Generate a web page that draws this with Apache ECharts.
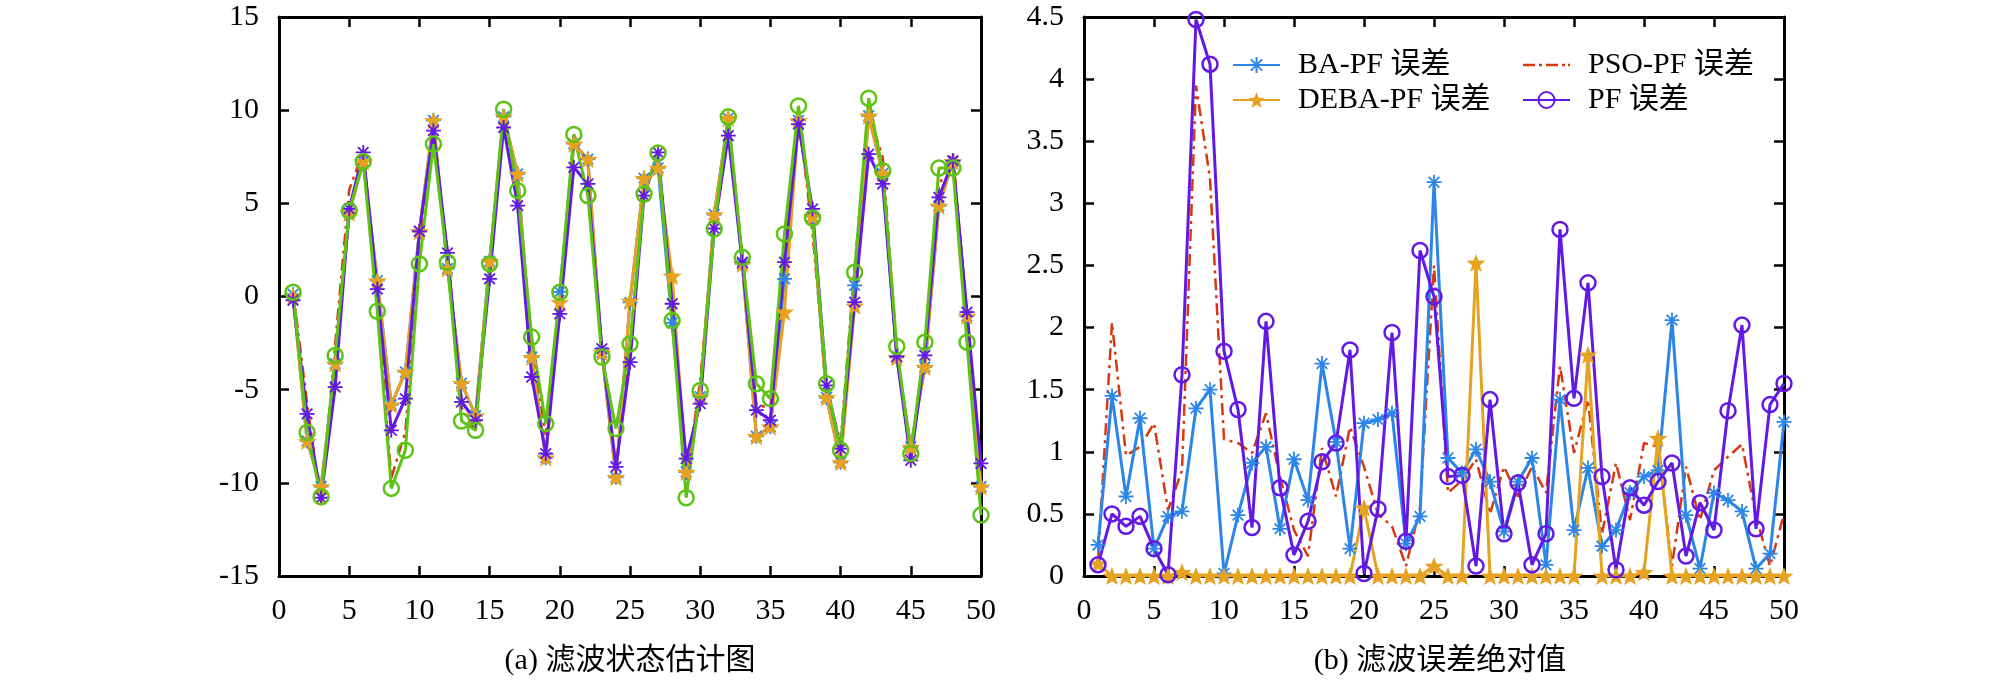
<!DOCTYPE html>
<html>
<head>
<meta charset="UTF-8">
<title>滤波状态估计与误差</title>
<style>
    html, body { margin: 0; padding: 0; background: #fff; }
    #chartArea { width: 2008px; height: 680px; }
</style>
</head>
<body>
<div id="chartArea"></div>
<script src="https://cdn.jsdelivr.net/npm/echarts@6/dist/echarts.min.js"></script>
<script>
// time steps 1..50
var steps = [1,2,3,4,5,6,7,8,9,10,11,12,13,14,15,16,17,18,19,20,21,22,23,24,25,
             26,27,28,29,30,31,32,33,34,35,36,37,38,39,40,41,42,43,44,45,46,47,48,49,50];

// (a) state estimates
var trueState = [0.12,-7.75,-10.2,-3.6,4.5,7.25,0.85,-5.8,-4.05,3.5,
                 9.45,1.5,-4.65,-6.4,1.9,9.65,6.58,-3.25,-8.65,0.25,
                 8.2,7.37,-3.0,-9.7,-0.32,6.35,6.9,-1.42,-9.42,-5.38,
                 4.4,9.57,1.75,-7.5,-6.98,0.95,9.45,4.3,-5.42,-8.9,
                 0.6,9.7,6.6,-3.27,-8.08,-3.78,4.86,7.25,-1.05,-10.2];
var psoEst = [0.27,-5.71,-11.17,-2.56,5.73,7.78,0.0,-9.75,-7.25,2.4,
              8.38,2.49,-5.96,-7.2,1.53,9.81,5.55,-2.61,-7.45,-0.63,
              8.7,6.97,-3.08,-9.15,-2.82,5.68,7.67,-0.48,-9.92,-4.5,
              3.76,8.69,2.42,-5.81,-5.99,2.37,9.79,3.39,-4.97,-7.83,
              1.64,9.78,7.48,-2.82,-8.93,-2.82,5.92,7.73,-1.13,-10.7];
var debaEst = [0.02,-7.75,-10.2,-3.6,4.5,7.25,0.85,-5.8,-4.05,3.5,
               9.45,1.5,-4.65,-6.4,1.9,9.65,6.58,-3.25,-8.65,-0.3,
               8.2,7.37,-3.0,-9.7,-0.24,6.35,6.9,1.1,-9.42,-5.38,
               4.4,9.57,1.75,-7.5,-6.98,-0.83,9.45,4.3,-5.42,-8.9,
               -0.5,9.7,6.6,-3.27,-8.08,-3.78,4.86,7.25,-1.05,-10.2];
var baEst = [-0.2,-6.3,-10.8,-4.86,4.7,7.73,0.4,-7.18,-5.48,3.5,
             8.9,2.34,-5.66,-6.64,0.95,9.07,4.88,-4.32,-8.43,-0.93,
             6.93,6.04,-2.8,-9.14,-3.52,5.41,7.73,-0.39,-8.7,-5.75,
             3.65,8.63,1.84,-6.1,-6.64,1.84,9.25,4.7,-4.77,-8.16,
             -0.3,7.64,6.04,-3.22,-8.79,-3.16,5.32,7.29,-0.84,-8.96];
var pfEst = [0.23,-7.3,-10.75,-3.16,4.6,7.25,-0.79,-10.3,-8.25,1.75,
             8.18,1.84,-6.68,-7.18,1.75,10.05,5.68,-2.18,-6.82,0.23,
             8.7,5.41,-3.25,-7.09,-2.54,5.5,7.7,-1.29,-10.8,-5.04,
             3.63,9.64,2.1,-4.68,-5.48,3.36,10.23,4.21,-4.68,-8.25,
             1.3,10.64,6.75,-2.68,-8.43,-2.45,6.89,6.89,-2.45,-11.73];

// (b) absolute errors
var baErr = [0.25,1.45,0.64,1.27,0.22,0.48,0.52,1.35,1.5,0.02,
             0.49,0.91,1.04,0.38,0.94,0.61,1.71,1.08,0.22,1.23,
             1.26,1.31,0.26,0.48,3.17,0.95,0.83,1.02,0.76,0.36,
             0.76,0.95,0.09,1.42,0.37,0.87,0.24,0.37,0.67,0.8,
             0.85,2.06,0.49,0.06,0.67,0.61,0.52,0.06,0.18,1.24];
var debaErr = [0.1,0,0,0,0,0,0.03,0,0,0,
               0,0,0,0,0,0,0,0,0,0.55,
               0,0,0,0,0.08,0,0,2.52,0,0,
               0,0,0,0,0,1.78,0,0,0,0.03,
               1.11,0,0,0,0,0,0,0,0,0];
var psoErr = [0.13,2.04,0.97,1.04,1.23,0.53,0.85,3.95,3.2,1.1,
              1.07,0.99,1.31,0.8,0.37,0.16,1.03,0.64,1.2,0.88,
              0.5,0.4,0.08,0.55,2.5,0.67,0.77,0.94,0.5,0.88,
              0.64,0.88,0.67,1.69,0.99,1.42,0.34,0.91,0.45,1.07,
              1.04,0.08,0.88,0.45,0.85,0.96,1.06,0.48,0.08,0.5];
var pfErr = [0.09,0.5,0.4,0.48,0.22,0.01,1.62,4.48,4.12,1.81,
             1.34,0.39,2.05,0.71,0.17,0.44,0.92,1.07,1.82,0.02,
             0.54,1.96,0.28,2.62,2.25,0.8,0.81,0.08,1.42,0.34,
             0.75,0.09,0.34,2.79,1.43,2.36,0.8,0.05,0.71,0.57,
             0.76,0.91,0.16,0.59,0.37,1.33,2.02,0.38,1.38,1.55];

var BLUE = '#2c86e8', ORANGE = '#e6a221', RED = '#d8380e', PURPLE = '#6319e6', GREEN = '#5dc414';
var FONT = "'Liberation Serif', 'Noto Sans CJK SC', serif";

var asterisk = 'path://M-1.2,-10L1.2,-10L1.2,10L-1.2,10Z' +
               'M-10,-1.2L10,-1.2L10,1.2L-10,1.2Z' +
               'M-6.22,-7.92L7.92,6.22L6.22,7.92L-7.92,-6.22Z' +
               'M-7.92,6.22L6.22,-7.92L7.92,-6.22L-6.22,7.92Z';
var star = 'path://M0,-10L2.47,-3.4L9.51,-3.09L3.99,1.3L5.88,8.09L0,4.2L-5.88,8.09L-3.99,1.3L-9.51,-3.09L-2.47,-3.4Z';
// dash-dot legend icon (47 x 20 box, tiny corner marks keep the box size)
var dashDotIcon = 'path://M0,0L0.1,0L0,0.1Z M47,20L46.9,20L47,19.9Z' +
                  'M0,8.8L12,8.8L12,11.2L0,11.2Z M16,8.8L19,8.8L19,11.2L16,11.2Z' +
                  'M23,8.8L35,8.8L35,11.2L23,11.2Z M39,8.8L42,8.8L42,11.2L39,11.2Z' +
                  'M45,8.8L47,8.8L47,11.2L45,11.2Z';

function pairs(ys) {
    return steps.map(function (x, i) { return [x, ys[i]]; });
}

function xAxes(grid) {
    var base = {
        gridIndex: grid, type: 'value', min: 0, max: 50, interval: 5,
        axisLine: { onZero: false, lineStyle: { color: '#000', width: 3 } },
        axisTick: { inside: true, length: 10, lineStyle: { color: '#000', width: 2.5 } },
        splitLine: { show: false }
    };
    return [
        Object.assign({}, base, { position: 'bottom',
            axisLabel: { margin: 20, color: '#000', fontSize: 30, fontFamily: FONT } }),
        Object.assign({}, base, { position: 'top', axisLabel: { show: false } })
    ];
}

function yAxes(grid, min, max, interval) {
    var base = {
        gridIndex: grid, type: 'value', min: min, max: max, interval: interval,
        axisLine: { onZero: false, lineStyle: { color: '#000', width: 3 } },
        axisTick: { inside: true, length: 10, lineStyle: { color: '#000', width: 2.5 } },
        splitLine: { show: false }
    };
    return [
        Object.assign({}, base, { position: 'left',
            axisLabel: { margin: 20, color: '#000', fontSize: 30, fontFamily: FONT } }),
        Object.assign({}, base, { position: 'right', axisLabel: { show: false } })
    ];
}

function markLine(name, axisIdx, ys, color, symbol, size, extra) {
    var s = {
        name: name, type: 'line',
        xAxisIndex: axisIdx, yAxisIndex: axisIdx,
        data: pairs(ys),
        symbol: symbol, symbolSize: size, symbolKeepAspect: true,
        lineStyle: { color: color, width: 3 },
        itemStyle: { color: color },
        animation: false
    };
    if (symbol === 'circle') {
        s.itemStyle = { color: 'rgba(255,255,255,0)', borderColor: color, borderWidth: 2.5 };
    }
    return Object.assign(s, extra || {});
}

var legendText = { fontSize: 30, fontFamily: FONT, color: '#000', padding: [0, 0, 0, 13] };

var myChart = echarts.init(document.getElementById('chartArea'));
myChart.setOption({
    backgroundColor: '#fff',
    animation: false,
    grid: [
        { left: 279, top: 17, width: 702, height: 559 },
        { left: 1084, top: 17, width: 700, height: 559 }
    ],
    xAxis: xAxes(0).concat(xAxes(1)),
    yAxis: yAxes(0, -15, 15, 5).concat(yAxes(1, 0, 4.5, 0.5)),
    legend: [
        {
            data: ['BA-PF 误差', 'DEBA-PF 误差'],
            orient: 'vertical', left: 1232, top: 50, padding: 0,
            itemWidth: 47, itemHeight: 20, itemGap: 5,
            textStyle: legendText
        },
        {
            data: [{ name: 'PSO-PF 误差', icon: dashDotIcon, itemStyle: { color: RED } }, 'PF 误差'],
            orient: 'vertical', left: 1522, top: 50, padding: 0,
            itemWidth: 47, itemHeight: 20, itemGap: 5,
            textStyle: legendText
        }
    ],
    graphic: [
        { type: 'text', x: 630, y: 661,
          style: { text: '(a) 滤波状态估计图', textAlign: 'center', textVerticalAlign: 'middle',
                   fill: '#000', font: '30px ' + FONT } },
        { type: 'text', x: 1440, y: 661,
          style: { text: '(b) 滤波误差绝对值', textAlign: 'center', textVerticalAlign: 'middle',
                   fill: '#000', font: '30px ' + FONT } }
    ],
    series: [
        // (a)
        markLine('真实状态', 0, trueState, BLUE, asterisk, 15),
        markLine('PSO-PF 估计', 0, psoEst, RED, 'none', 0,
                 { lineStyle: { color: RED, width: 2.5, type: [12, 5, 3, 5] } }),
        markLine('DEBA-PF 估计', 0, debaEst, ORANGE, star, 19),
        markLine('BA-PF 估计', 0, baEst, PURPLE, asterisk, 15),
        markLine('PF 估计', 0, pfEst, GREEN, 'circle', 15),
        // (b)
        markLine('PSO-PF 误差', 2, psoErr, RED, 'none', 0,
                 { lineStyle: { color: RED, width: 2.5, type: [12, 5, 3, 5] } }),
        markLine('BA-PF 误差', 2, baErr, BLUE, asterisk, 15),
        markLine('DEBA-PF 误差', 2, debaErr, ORANGE, star, 19),
        markLine('PF 误差', 2, pfErr, PURPLE, 'circle', 15)
    ]
});
</script>
</body>
</html>
